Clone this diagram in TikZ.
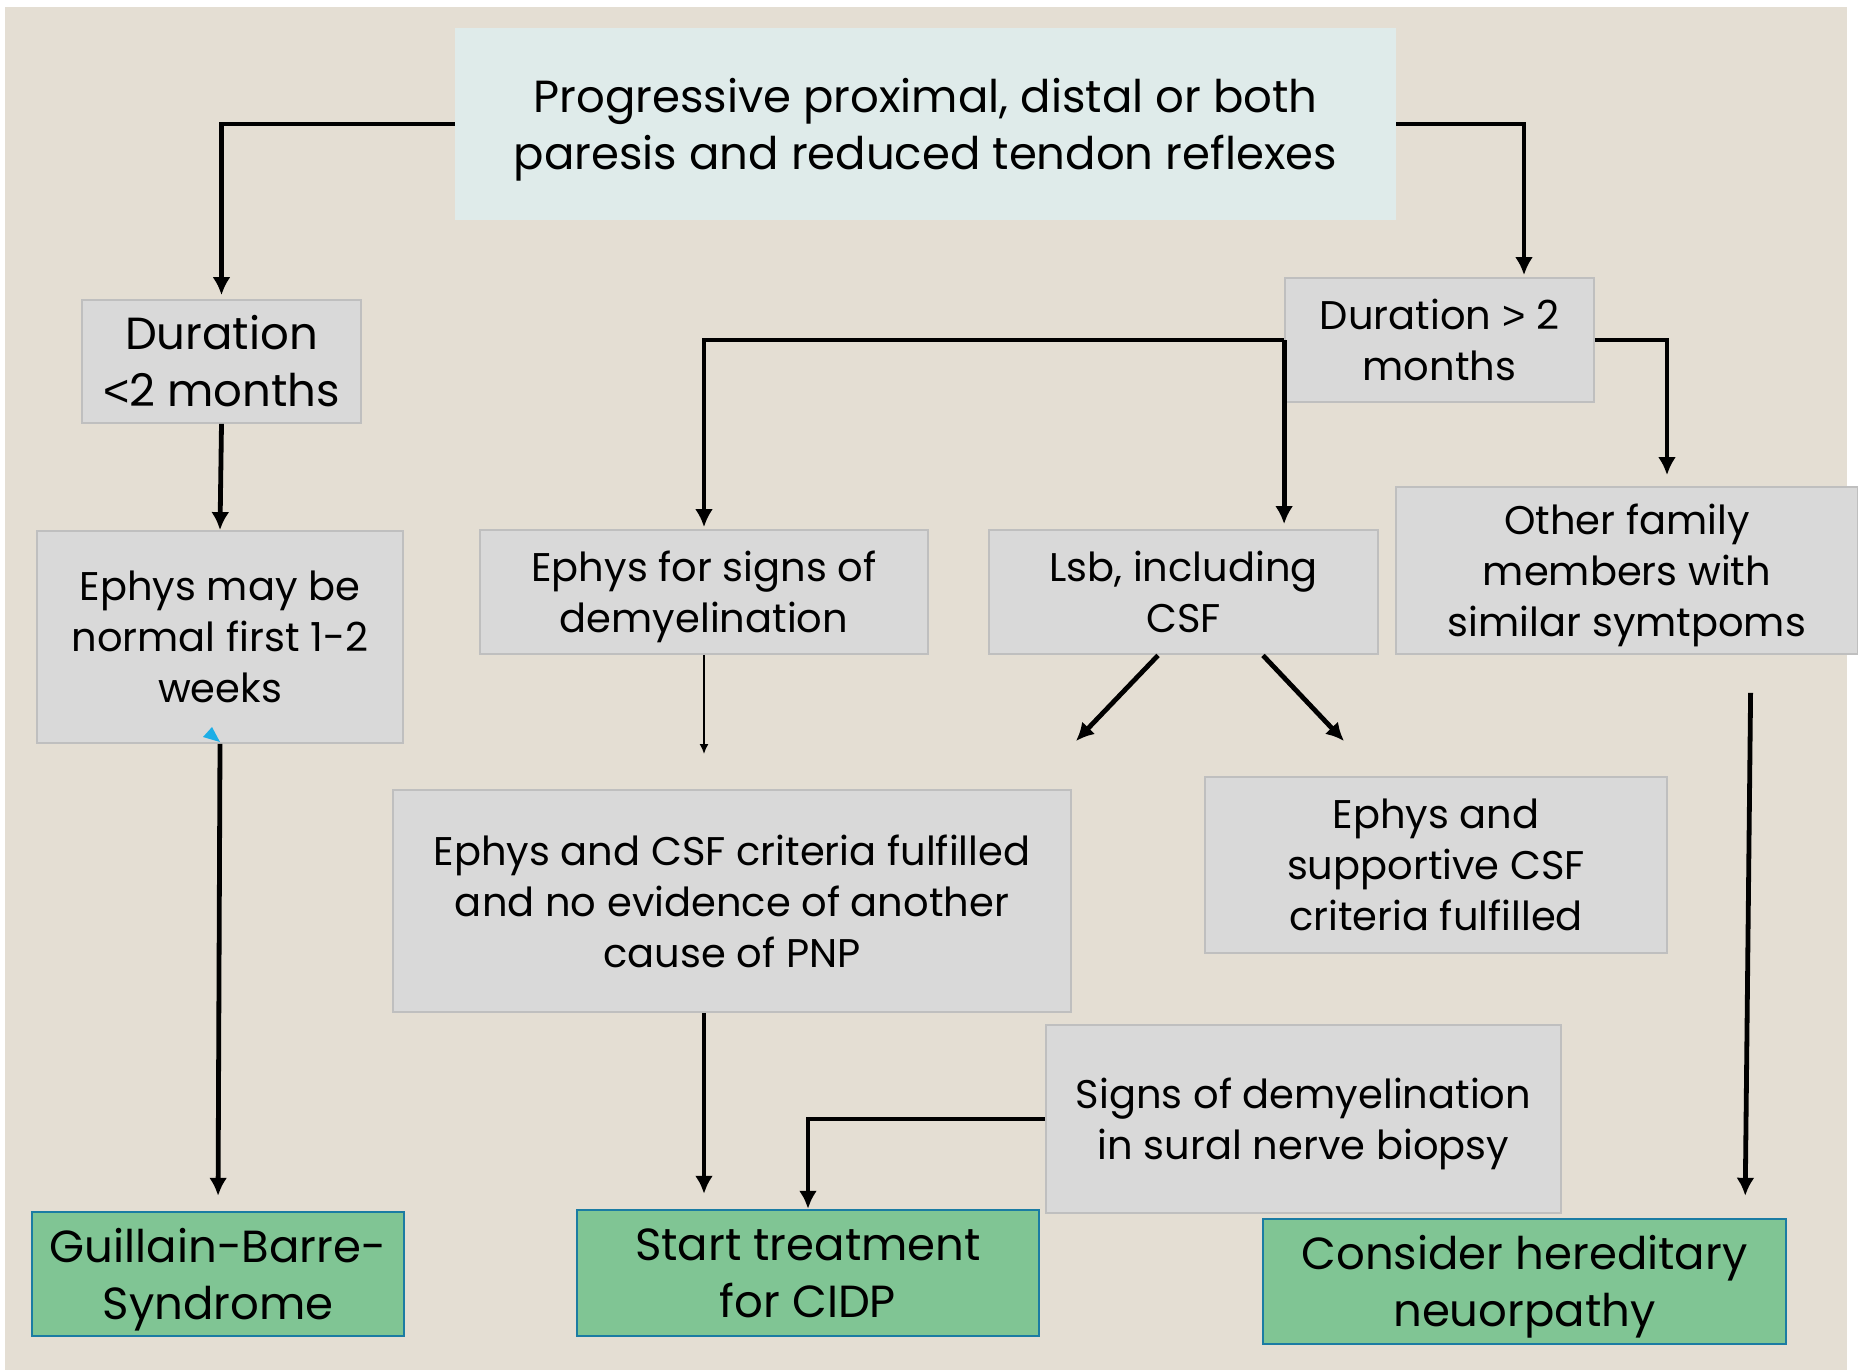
\documentclass[tikz,border=0pt]{standalone}
\usepackage{fontspec}
\setmainfont{Poppins}
\newfontfamily\symf{Liberation Sans}
\usetikzlibrary{arrows.meta,calc}
\definecolor{bg}{HTML}{E4DED3}
\definecolor{topfill}{HTML}{DFEBEA}
\definecolor{boxfill}{HTML}{D9D9D9}
\definecolor{boxline}{HTML}{BFBFBF}
\definecolor{greenfill}{HTML}{80C594}
\definecolor{greenline}{HTML}{1B7CA3}
\definecolor{tipblue}{HTML}{1DAEE6}
\newcommand{\upstrut}{\rule{0pt}{1em}}
\begin{document}
\begin{tikzpicture}[x=0.5pt,y=-0.5pt,
  sz/.style 2 args={minimum width=#1*0.5pt, minimum height=#2*0.5pt},
  big/.style={font=\fontsize{22.5}{28.5}\selectfont},
  mid/.style={font=\fontsize{20}{25.5}\selectfont},
  topbox/.style={fill=topfill, align=center, inner sep=0pt, big},
  graybox/.style={draw=boxline, fill=boxfill, line width=0.9pt, align=center, inner sep=0pt},
  greenbox/.style={draw=greenline, fill=greenfill, line width=1.2pt, align=center, inner sep=0pt, big},
  arr/.style={line width=2.4pt, -{Latex[length=9pt,width=9pt]}},
  thinarr/.style={line width=0.8pt, -{Latex[length=5pt,width=4.5pt]}}
]
\useasboundingbox (0,0) rectangle (1858,1370);
\fill[white] (0,0) rectangle (1858,1370);
\fill[bg] (5,7) rectangle (1847,1370);

% nodes
\node[topbox, sz={941}{192}] (top) at (925.5,124) {\upstrut Progressive proximal, distal or both\\paresis and reduced tendon reflexes};
\node[graybox, big, sz={279}{123}] (d1) at (221.5,361.5) {Duration\\{\symf <}2 months};
\node[graybox, mid, sz={309}{124}] (d2) at (1439.5,340) {Duration {\symf >} 2\\months};
\node[graybox, mid, sz={366}{212}] (e1) at (220,637) {Ephys may be\\normal first 1-2\\weeks};
\node[graybox, mid, sz={448}{124}] (e2) at (704,592) {\upstrut Ephys for signs of\\demyelination};
\node[graybox, mid, sz={389}{124}] (lsb) at (1183.5,592) {Lsb, including\\CSF};
\node[graybox, mid, sz={462}{167}] (fam) at (1627,570.5) {\upstrut Other family\\members with\\similar symtpoms};
\node[graybox, mid, sz={678}{222}] (crit) at (732,901) {Ephys and CSF criteria fulfilled\\and no evidence of another\\cause of PNP};
\node[graybox, mid, sz={462}{176}] (supp) at (1436,865) {Ephys and\\supportive CSF\\criteria fulfilled};
\node[graybox, mid, sz={515}{188}] (sural) at (1303.5,1119) {\upstrut Signs of demyelination\\in sural nerve biopsy};
\node[greenbox, sz={372}{124}] (gbs) at (218,1274) {\upstrut Guillain-Barre-\\Syndrome};
\node[greenbox, sz={462}{126}] (cidp) at (808,1273) {Start treatment\\for CIDP};
\node[greenbox, sz={523}{125}] (here) at (1524.5,1281.5) {\upstrut Consider hereditary\\neuorpathy};

% free ends
\coordinate (e2end) at (704,754);
\coordinate (lsbL) at (1076,741);
\coordinate (lsbR) at (1344,741);

% connectors
\draw[arr, shorten >=2pt] (top.west) -| (d1.north);
\draw[arr, shorten >=1pt] (top.east) -| ($(d2.north)+(84.5,0)$);
\draw[arr, shorten >=0pt] (d1.south) -- (e1.north);
\draw[arr, shorten >=1pt] (d2.west) -| (e2.north);
\draw[arr, shorten >=2.5pt] (d2.west) -- (d2.west |- lsb.north);
\draw[arr, shorten >=5.5pt] (d2.east) -| ($(fam.north)+(40,0)$);
\draw[thinarr] (e2.south) -- (e2end);
\draw[arr] ($(lsb.south)+(-25.5,0.5)$) -- (lsbL);
\draw[arr] ($(lsb.south)+(79.5,0.5)$) -- (lsbR);
\draw[arr, shorten >=7.5pt] ($(crit.south)+(-28,0)$) -- ($(cidp.north)+(-104,0)$);
\draw[arr] (sural.west) -| (cidp.north);
\draw[arr, shorten >=7.5pt] (e1.south) -- (gbs.north);
\draw[arr, shorten <=19pt, shorten >=11pt] ($(fam.south)+(124,0)$) -- ($(here.north)+(220.5,0)$);

% small blue tip at the bottom of e1
\fill[tipblue] (203,737) -- (212,727) -- (220,742) -- cycle;
\end{tikzpicture}
\end{document}
